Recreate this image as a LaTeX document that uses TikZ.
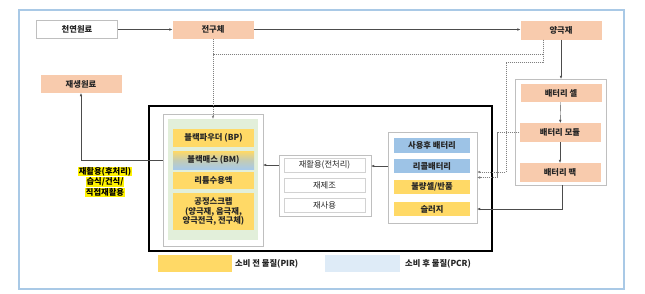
\documentclass[tikz,border=0pt]{standalone}
\usepackage{fontspec}
\setmainfont{Noto Sans CJK KR}
\usetikzlibrary{arrows.meta,positioning}

\definecolor{orng}{HTML}{F8CBAD}
\definecolor{ylw}{HTML}{FFD966}
\definecolor{blu}{HTML}{9DC3E6}
\definecolor{grn}{HTML}{E2EFDA}
\definecolor{pale}{HTML}{DEEBF7}
\definecolor{frm}{HTML}{A9C9E6}
\definecolor{gline}{HTML}{BFBFBF}
\definecolor{txt}{HTML}{262626}

\begin{document}
\begin{tikzpicture}[x=1pt,y=-1pt,
			every node/.style={font=\fontsize{8.3}{9.8}\selectfont,text=txt},
			bx/.style={rectangle,inner sep=0pt,minimum width=81pt,minimum height=18pt},
			ob/.style={bx,fill=orng,font=\fontsize{8.3}{9.8}\selectfont\bfseries},
			wb/.style={bx,draw=gline,fill=white},
			sb/.style={bx,draw=gline!70,fill=white,minimum height=14pt},
			yb/.style={bx,fill=ylw,font=\fontsize{8.3}{9.8}\selectfont\bfseries},
			bb/.style={bx,fill=blu,minimum width=76pt,minimum height=15pt,font=\fontsize{8.3}{9.8}\selectfont\bfseries},
			pan/.style={rectangle,draw=gline,fill=white,inner sep=0pt},
			hl/.style={fill=yellow,inner sep=0.6pt,text=black,font=\fontsize{8.3}{9.8}\selectfont\bfseries},
			flow/.style={draw=black!70,-{Latex[length=3pt,width=2.6pt]}},
			dsh/.style={draw=black!50,dash pattern=on 1.2pt off 0.8pt},
			dflow/.style={dsh,-{Latex[length=3pt,width=2.6pt]}}]
			
			% canvas and outer frame
			\useasboundingbox[fill=white] (0,0) rectangle (645,293);
			\draw[frm,line width=1.6pt] (19,10) rectangle (624,289);
			
			% top row
			\node[wb,font=\fontsize{8.3}{9.8}\selectfont\bfseries] (src) at (77,29.5) {천연원료};
			\node[ob] (pre) at (213,29.5) {전구체};
			\node[ob,minimum height=19pt] (cat) at (561,30) {양극재};
			\node[ob] (rec) at (81,84) {재생원료};
			
			% battery chain
			\node[pan,minimum width=91pt,minimum height=106pt] (batgrp) at (560.5,132) {};
			\node[ob] (cell) at (561,93) {배터리 셀};
			\node[ob,minimum height=19pt] (mod) at (560,132.5) {배터리 모듈};
			\node[ob,minimum height=19pt] (pack) at (560,172.5) {배터리 팩};
			
			% recycling frame
			\node[draw=black,line width=1.5pt,minimum width=343pt,minimum height=145pt,inner sep=0pt] (bigbox) at (320.5,178.5) {};
			
			% left panel: recycled materials
			\node[pan,minimum width=100pt,minimum height=132pt] (leftpan) at (213,180) {};
			\node[fill=grn,minimum width=90pt,minimum height=121pt,inner sep=0pt] (green) at (213,179.5) {};
			\node[yb] (bp) at (213.5,138) {블랙파우더 (BP)};
			\node[bx,top color=ylw,bottom color=blu!90,middle color=ylw!40!blu,font=\fontsize{8.3}{9.8}\selectfont\bfseries] (bm) at (213.5,160) {블랙매스 (BM)};
			\node[yb,minimum height=17pt] (li) at (213.5,180.5) {리튬수용액};
			\node[yb,minimum height=37pt,align=center] (scrap) at (213.5,211.5) {공정스크랩\\(양극재, 음극재,\\양극전극, 전구체)};
			
			% middle panel: reuse paths
			\node[pan,minimum width=92pt,minimum height=61pt] (midpan) at (325,185.5) {};
			\node[sb] (pret) at (324.5,165) {재활용(전처리)};
			\node[sb] (reman) at (324.5,185) {재제조};
			\node[sb] (reuse) at (324.5,205) {재사용};
			
			% right panel: sources
			\node[pan,minimum width=89pt,minimum height=91pt] (rightpan) at (432.5,177.5) {};
			\node[bb] (used) at (432,145.5) {사용후 배터리};
			\node[bb,minimum height=14pt] (recall) at (432,166) {리콜배터리};
			\node[yb,minimum width=76pt,minimum height=14pt] (defect) at (432,187) {불량셀/반품};
			\node[yb,minimum width=76pt,minimum height=14pt] (sludge) at (432,209) {슬러지};
			
			% post-treatment label
			\node[hl] (hl1) at (105,171.5) {재활용(후처리)};
			\node[hl] (hl2) at (105,182) {습식/건식/};
			\node[hl] (hl3) at (105,192.5) {직접재활용};
			
			% legend
			\node[fill=ylw,minimum width=74pt,minimum height=17pt,inner sep=0pt] (legy) at (195,263.5) {};
			\node[anchor=west,inner sep=0pt,font=\fontsize{8.3}{9.8}\selectfont\bfseries] (legyt) at (235,263.5) {소비 전 물질(PIR)};
			\node[fill=pale,minimum width=75pt,minimum height=17pt,inner sep=0pt] (legb) at (362.5,263.5) {};
			\node[anchor=west,inner sep=0pt,font=\fontsize{8.3}{9.8}\selectfont\bfseries] (legbt) at (405,263.5) {소비 후 물질(PCR)};
			
			% solid flows
			\draw[flow] (src) -- (pre);
			\draw[flow] (pre.east) -- (pre.east -| cat.west);
			\draw[flow] (cat) -- (batgrp.north -| cat);
			\draw[flow] (cell) -- (mod);
			\draw[flow] (mod) -- (pack);
			\draw[flow] ([xshift=1.5pt]batgrp.south) |- (rightpan.east |- sludge);
			\draw[flow] (rightpan.west |- recall) -- (midpan.east |- recall);
			\draw[flow] (midpan.west |- pret) -- (leftpan.east |- pret);
			\draw[flow] (leftpan.west |- bm) -| (rec);
			
			% dashed flows
			\coordinate (ctap) at ([xshift=-18pt]cat.south);
			\coordinate (jn) at (213,54);
			\coordinate (kb) at (506,62);
			\draw[dflow] (pre) -- (green);
			\draw[dsh] (ctap) |- (jn);
			\draw[dflow] (ctap) |- (kb) |- ([yshift=5.5pt]rightpan.east);
			\draw[dflow] (mod.west) -| ([xshift=20pt]rightpan.east) -- (rightpan.east);
			
		\end{tikzpicture}
\end{document}
